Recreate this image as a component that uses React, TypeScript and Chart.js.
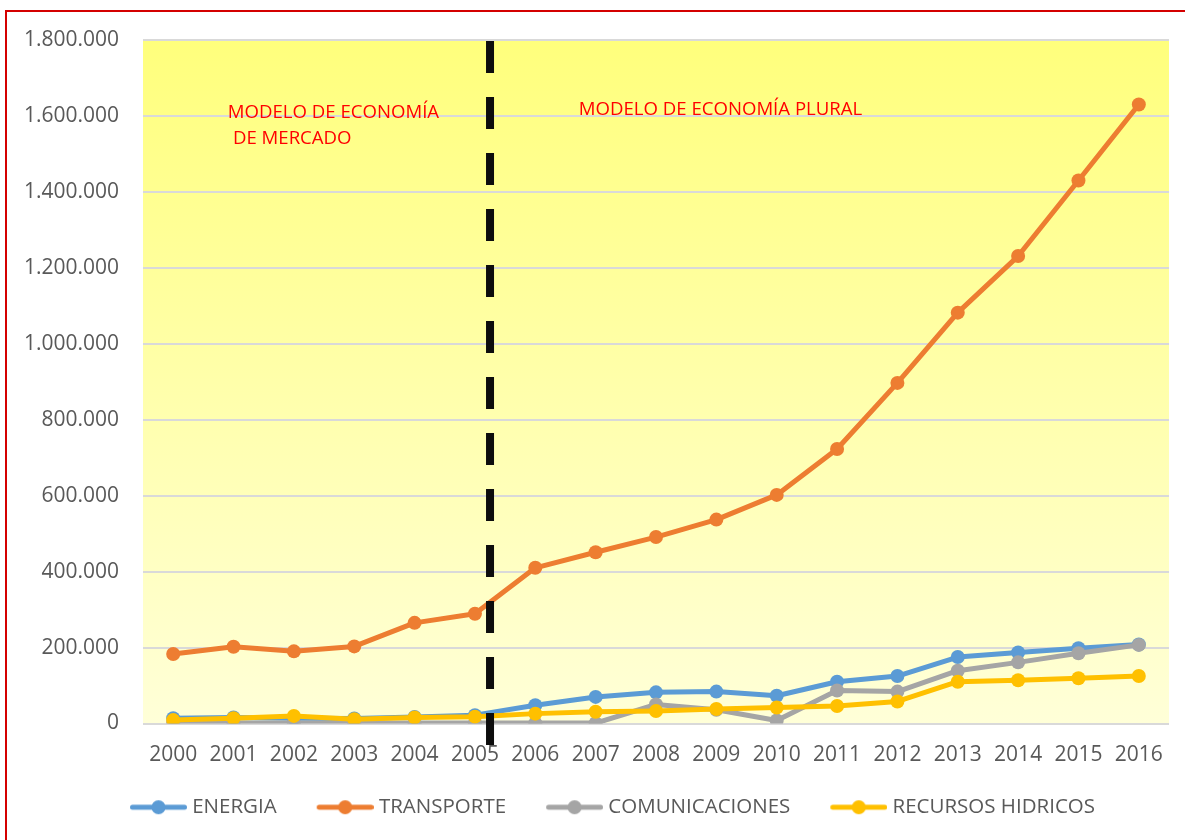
import React, { useEffect, useRef } from 'react';
import { Chart, registerables } from 'chart.js';

Chart.register(...registerables);

const YEARS = ['2000', '2001', '2002', '2003', '2004', '2005', '2006', '2007', '2008', '2009', '2010', '2011', '2012', '2013', '2014', '2015', '2016'];
const ENERGIA = [14000, 16000, 14000, 13000, 17000, 22000, 48000, 70000, 82000, 84000, 73000, 110000, 125000, 175000, 187000, 198000, 208000];
const TRANSPORTE = [183000, 202000, 190000, 203000, 265000, 289000, 410000, 451000, 491000, 537000, 602000, 723000, 897000, 1082000, 1231000, 1430000, 1630000];
const COMUNICACIONES = [1000, 1000, 1000, 1000, 1000, 1000, 1000, 1000, 50000, 36000, 8000, 87000, 84000, 139000, 161000, 185000, 207000];
const RECURSOS_HIDRICOS = [9000, 14000, 20000, 11000, 16000, 18000, 26000, 31000, 33000, 38000, 42000, 46000, 58000, 110000, 114000, 119000, 125000];

const SERIES_NAMES = ['ENERGIA', 'TRANSPORTE', 'COMUNICACIONES', 'RECURSOS HIDRICOS'];
const SERIES_COLORS = ['#5B9BD5', '#ED7D31', '#A5A5A5', '#FFC000'];

const Y_MIN = 0;
const Y_MAX = 1800000;
const Y_STEP = 200000;

// vertical divider between the two economic models (category index units)
const DIVIDER_INDEX = 5.25;
const DIVIDER_BOTTOM_VALUE = -58000;

const ANNOTATIONS = [
  { text: 'MODELO DE ECONOMÍA', xIndex: 0.905, yValue: 1594000 },
  { text: 'DE MERCADO', xIndex: 0.99, yValue: 1526000 },
  { text: 'MODELO DE ECONOMÍA PLURAL', xIndex: 6.72, yValue: 1602000 },
];

const FONT = '"Open Sans", "Liberation Sans", sans-serif';
const TICK_COLOR = '#595959';

// legend geometry: box 92 wide, icon occupies [40, 97] of it, text follows
const LEGEND_BOX = 92;
const ICON_IMG_W = 102;

function formatThousands(v: number): string {
  const s = String(Math.round(Math.abs(v))).replace(/\B(?=(\d{3})+(?!\d))/g, '.');
  return v < 0 ? '-' + s : s;
}

function makeLegendIcon(color: string): HTMLCanvasElement {
  const c = document.createElement('canvas');
  c.width = ICON_IMG_W;
  c.height = 16;
  const g = c.getContext('2d')!;
  const x0 = ICON_IMG_W - 57;
  g.strokeStyle = color;
  g.lineWidth = 5;
  g.lineCap = 'round';
  g.beginPath();
  g.moveTo(x0 + 2.5, 8);
  g.lineTo(ICON_IMG_W - 2.5, 8);
  g.stroke();
  g.fillStyle = color;
  g.beginPath();
  g.arc(x0 + 28.5, 8, 7, 0, Math.PI * 2);
  g.fill();
  return c;
}

const backgroundPlugin = {
  id: 'plotBackground',
  beforeDraw(chart: any) {
    const { ctx, chartArea } = chart;
    if (!chartArea) return;
    const grad = ctx.createLinearGradient(0, chartArea.top, 0, chartArea.bottom);
    grad.addColorStop(0, '#FFFF7C');
    grad.addColorStop(1, '#FFFFD8');
    ctx.save();
    ctx.fillStyle = grad;
    ctx.fillRect(chartArea.left, chartArea.top, chartArea.right - chartArea.left, chartArea.bottom - chartArea.top);
    ctx.restore();
  },
};

const overlayPlugin = {
  id: 'overlay',
  afterDatasetsDraw(chart: any) {
    const { ctx } = chart;
    const xs = chart.scales.x;
    const ys = chart.scales.y;
    const x = xs.getPixelForValue(DIVIDER_INDEX);
    ctx.save();
    ctx.strokeStyle = '#0D0D0D';
    ctx.lineWidth = 8;
    ctx.lineCap = 'butt';
    ctx.setLineDash([32, 24]);
    ctx.beginPath();
    ctx.moveTo(x, ys.getPixelForValue(Y_MAX) + 1);
    ctx.lineTo(x, ys.getPixelForValue(DIVIDER_BOTTOM_VALUE));
    ctx.stroke();
    ctx.setLineDash([]);
    ctx.fillStyle = '#FF0000';
    ctx.font = '18.6px ' + FONT;
    ctx.textAlign = 'left';
    ctx.textBaseline = 'alphabetic';
    ANNOTATIONS.forEach((a) => {
      ctx.fillText(a.text, xs.getPixelForValue(a.xIndex), ys.getPixelForValue(a.yValue));
    });
    ctx.restore();
  },
};

export default function App() {
  const canvasRef = useRef<HTMLCanvasElement | null>(null);

  useEffect(() => {
    document.body.style.margin = '0';
    const canvas = canvasRef.current;
    if (!canvas) return;
    const seriesData = [ENERGIA, TRANSPORTE, COMUNICACIONES, RECURSOS_HIDRICOS];
    const icons = SERIES_COLORS.map(makeLegendIcon);
    const chart = new Chart(canvas, {
      type: 'line',
      data: {
        labels: YEARS,
        datasets: seriesData.map((d, i) => ({
          label: SERIES_NAMES[i],
          data: d,
          yAxisID: 'y',
          borderColor: SERIES_COLORS[i],
          backgroundColor: SERIES_COLORS[i],
          pointBackgroundColor: SERIES_COLORS[i],
          pointBorderColor: SERIES_COLORS[i],
          pointBorderWidth: 0,
          pointRadius: 7,
          borderWidth: 5,
          borderJoinStyle: 'round',
          borderCapStyle: 'round',
          tension: 0,
          fill: false,
          order: 3 - i,
        })),
      },
      options: {
        responsive: false,
        animation: false,
        events: [],
        devicePixelRatio: 1,
        layout: { padding: { left: 0, right: 0, top: 40, bottom: 12.5 } },
        scales: {
          x: {
            type: 'category',
            offset: true,
            grid: { display: false, drawTicks: false },
            border: { display: false },
            ticks: { color: TICK_COLOR, font: { family: FONT, size: 21 }, padding: 19, maxRotation: 0, autoSkip: false },
            afterFit: (s: any) => {
              s.height = 73.5;
              s.paddingLeft = 0;
              s.paddingRight = 0;
            },
          },
          y: {
            position: 'left',
            min: Y_MIN,
            max: Y_MAX,
            grid: { color: '#D9D9D9', lineWidth: 2, drawTicks: false },
            border: { display: false },
            ticks: {
              stepSize: Y_STEP,
              color: TICK_COLOR,
              font: { family: FONT, size: 21 },
              padding: 24,
              callback: (v: any) => formatThousands(Number(v)),
            },
            afterFit: (s: any) => {
              s.width = 143;
              s.paddingTop = 0;
              s.paddingBottom = 0;
            },
          },
          yRightSpacer: {
            type: 'linear',
            position: 'right',
            display: true,
            grid: { display: false, drawTicks: false },
            border: { display: false },
            ticks: { display: false },
            afterFit: (s: any) => {
              s.width = 16;
              s.paddingTop = 0;
              s.paddingBottom = 0;
            },
          },
        },
        plugins: {
          tooltip: { enabled: false },
          legend: {
            position: 'bottom',
            labels: {
              usePointStyle: true,
              pointStyleWidth: LEGEND_BOX,
              padding: 0,
              color: TICK_COLOR,
              font: { family: FONT, size: 20.5 },
              generateLabels: (c: any) =>
                c.data.datasets.map((ds: any, i: number) => ({
                  text: ds.label,
                  pointStyle: icons[i],
                  fillStyle: SERIES_COLORS[i],
                  strokeStyle: SERIES_COLORS[i],
                  lineWidth: 0,
                  hidden: false,
                  datasetIndex: i,
                  fontColor: TICK_COLOR,
                })),
            },
          },
        },
      } as any,
      plugins: [backgroundPlugin, overlayPlugin],
    });
    return () => chart.destroy();
  }, []);

  return (
    <div style={{ position: 'relative', width: 1185, height: 840, overflow: 'hidden', background: '#FFFFFF' }}>
      <canvas ref={canvasRef} width={1185} height={840} style={{ display: 'block' }} />
      <div
        style={{
          position: 'absolute',
          left: 5,
          top: 10,
          width: 1200,
          height: 860,
          borderLeft: '2px solid #D40000',
          borderTop: '2px solid #D40000',
          pointerEvents: 'none',
        }}
      />
    </div>
  );
}
